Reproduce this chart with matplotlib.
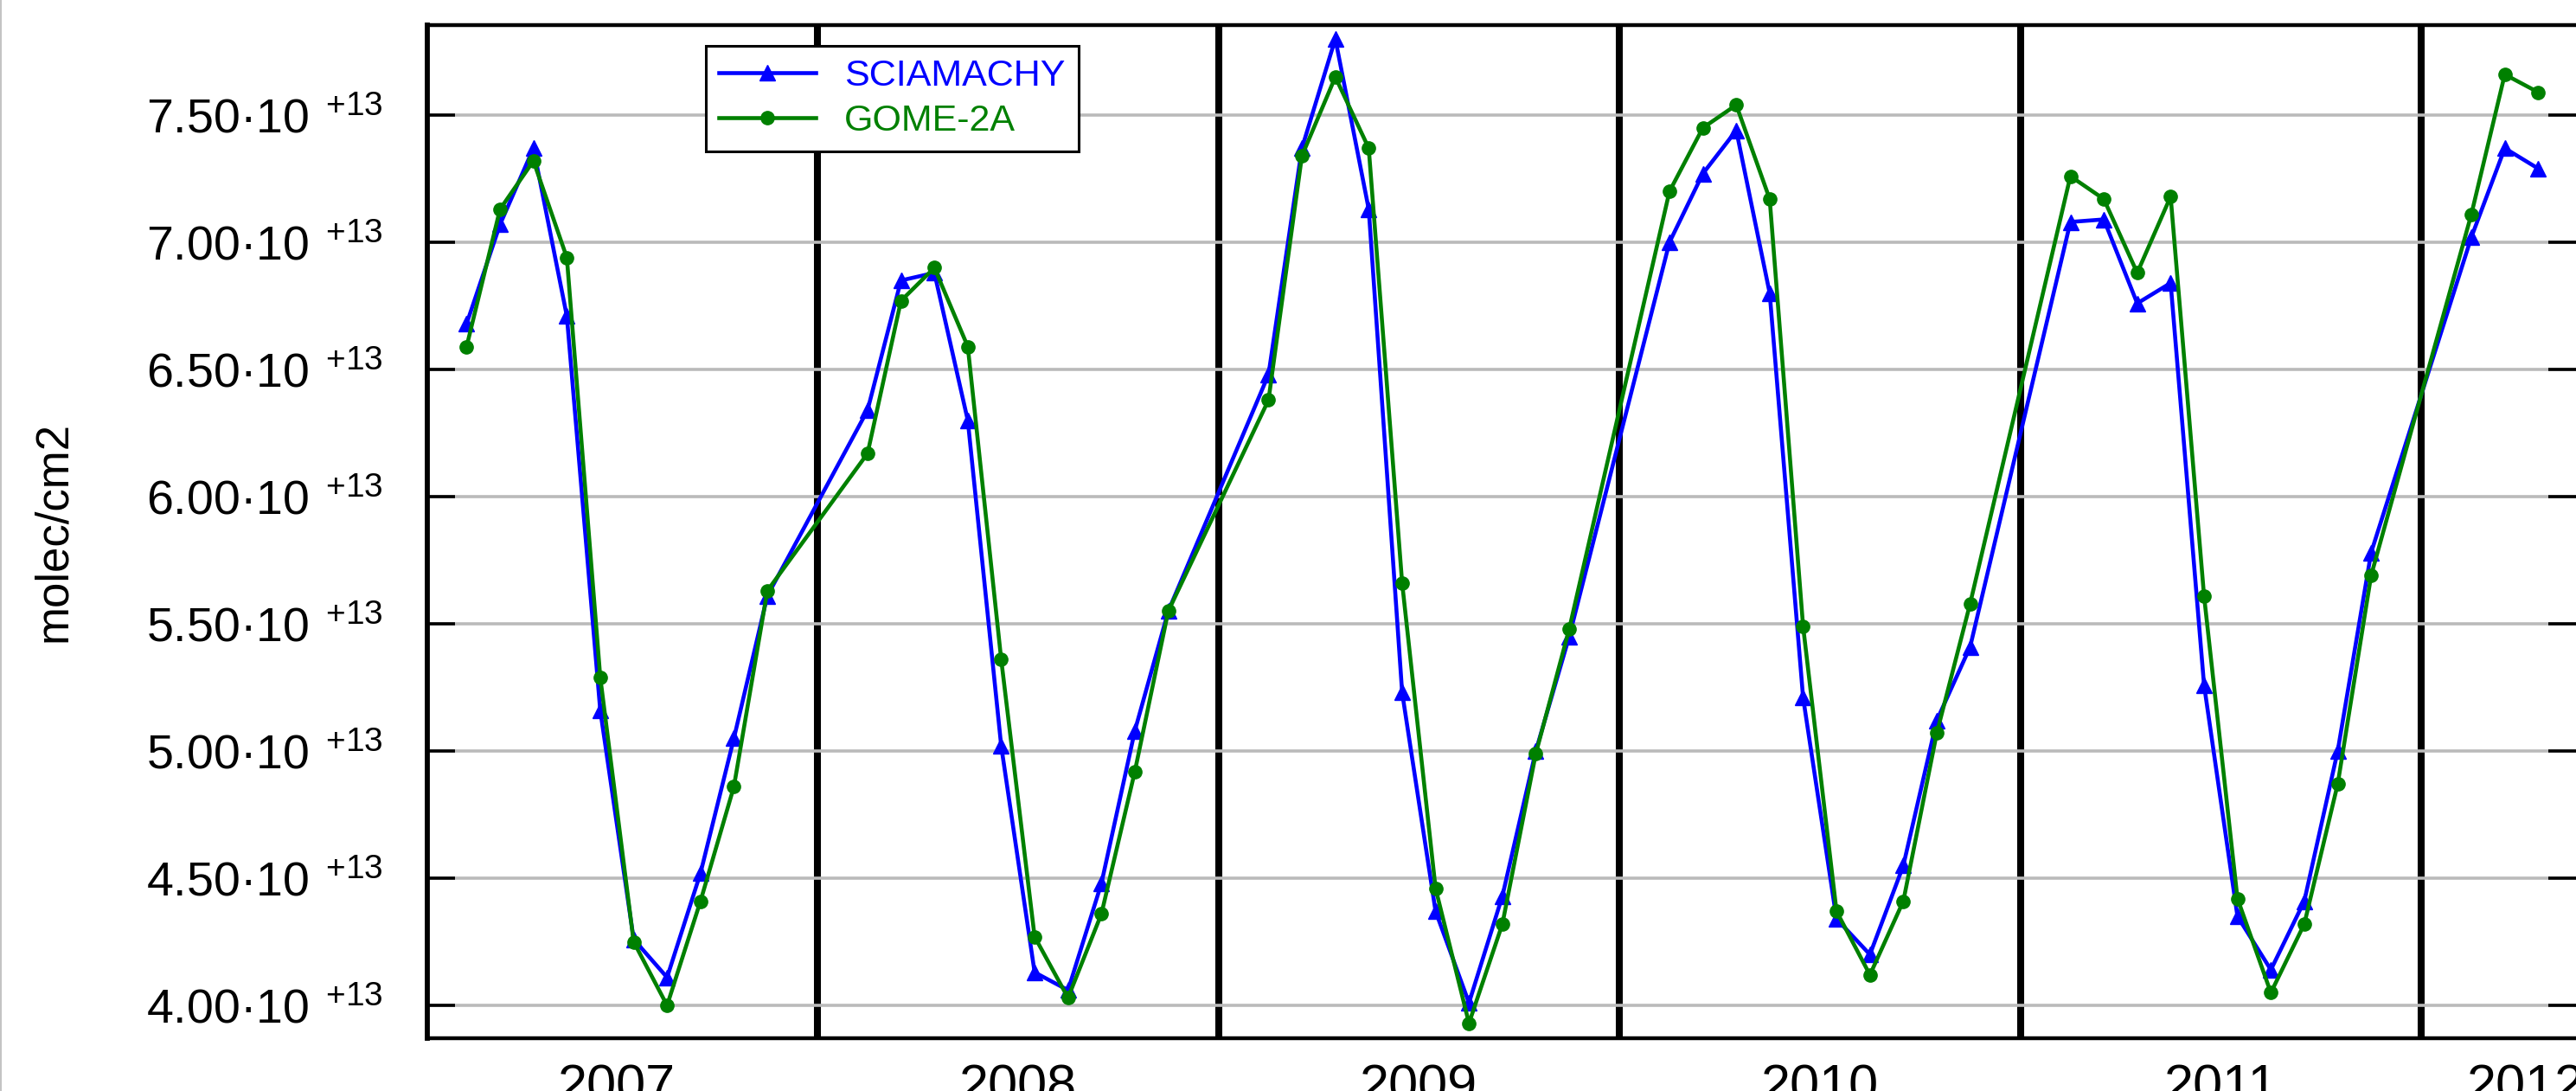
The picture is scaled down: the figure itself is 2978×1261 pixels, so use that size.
import numpy as np
import matplotlib
matplotlib.use("Agg")
import matplotlib.pyplot as plt
from matplotlib.ticker import FixedLocator, FuncFormatter, NullFormatter
from matplotlib.lines import Line2D

plt.rcParams["font.family"] = ["Liberation Sans", "DejaVu Sans"]
plt.rcParams["mathtext.default"] = "regular"

# Monthly columns, February to November each year (winter months missing)
years = [2007] * 10 + [2008] * 10 + [2009] * 10 + [2010] * 10 + [2011] * 10 + [2012] * 3
months = list(range(2, 12)) * 5 + [2, 3, 4]

# Column values in units of 1e13 molec/cm2
sciamachy = [
    6.68, 7.07, 7.37, 6.71, 5.16, 4.26, 4.11, 4.52, 5.05, 5.61,
    6.34, 6.85, 6.88, 6.30, 5.02, 4.13, 4.06, 4.48, 5.08, 5.55,
    6.48, 7.37, 7.80, 7.13, 5.23, 4.37, 4.01, 4.43, 5.00, 5.45,
    7.00, 7.27, 7.44, 6.80, 5.21, 4.34, 4.20, 4.55, 5.12, 5.41,
    7.08, 7.09, 6.76, 6.84, 5.26, 4.35, 4.14, 4.41, 5.00, 5.78,
    7.02, 7.37, 7.29,
]
gome2a = [
    6.59, 7.13, 7.32, 6.94, 5.29, 4.25, 4.00, 4.41, 4.86, 5.63,
    6.17, 6.77, 6.90, 6.59, 5.36, 4.27, 4.03, 4.36, 4.92, 5.55,
    6.38, 7.34, 7.65, 7.37, 5.66, 4.46, 3.93, 4.32, 4.99, 5.48,
    7.20, 7.45, 7.54, 7.17, 5.49, 4.37, 4.12, 4.41, 5.07, 5.58,
    7.26, 7.17, 6.88, 7.18, 5.61, 4.42, 4.05, 4.32, 4.87, 5.69,
    7.11, 7.66, 7.59,
]
exponent = 13

year_bounds = [2008, 2009, 2010, 2011, 2012]
year_labels = ["2007", "2008", "2009", "2010", "2011", "2012"]
year_label_pos = [2007.5, 2008.5, 2009.5, 2010.5, 2011.5, 2012.26]
y_ticks = [4.00, 4.50, 5.00, 5.50, 6.00, 6.50, 7.00, 7.50]

scale = 10.0 ** exponent
t = np.array(years) + (np.array(months) - 0.5) / 12.0
y_scia = np.array(sciamachy) * scale
y_gome = np.array(gome2a) * scale

W, H = 2978, 1261
fig = plt.figure(figsize=(W / 100, H / 100), dpi=100)
ax = fig.add_axes([494 / W, 61 / H, (W - 494) / W, (1200 - 29) / H])

ax.plot(t, y_scia, color="#0000ff", lw=3.3, marker="^", ms=13,
        label="SCIAMACHY", zorder=3)
ax.plot(t, y_gome, color="#008000", lw=3.3, marker="o", ms=11,
        label="GOME-2A", zorder=4)

ax.set_xlim(2007.027, 2012.386)
ax.set_ylim(3.871 * scale, 7.854 * scale)

# Year boundaries as heavy black lines, year names centred in each span
ax.xaxis.set_major_locator(FixedLocator(year_bounds))
ax.xaxis.set_major_formatter(NullFormatter())
ax.xaxis.set_minor_locator(FixedLocator(year_label_pos))
ax.set_xticklabels(year_labels, minor=True)
ax.tick_params(axis="x", which="both", length=0)
ax.tick_params(axis="x", which="minor", labelsize=44, pad=21)
ax.grid(axis="x", which="major", color="black", lw=5.8)

ax.yaxis.set_major_locator(FixedLocator([v * scale for v in y_ticks]))
ax.yaxis.set_major_formatter(FuncFormatter(
    lambda v, p: r"$%.2f·10^{\ \,{+}%d}$" % (v / scale, exponent)))
ax.tick_params(axis="y", which="major", direction="in", length=23, width=2.6,
               left=True, right=True, labelsize=40, pad=37)
ax.grid(axis="y", which="major", color="#bababa", lw=2.6)
ax.set_axisbelow(True)

for side in ("left", "top", "bottom"):
    ax.spines[side].set_linewidth(3.2)
    ax.spines[side].set_color("black")
ax.spines["left"].set_linewidth(4.2)
ax.spines["right"].set_visible(False)

ax.set_ylabel("molec/cm2", fontsize=38)
ax.yaxis.set_label_coords((87 - 494) / (W - 494), 0.5)

leg = ax.legend(loc="upper left",
                bbox_to_anchor=((816 - 494) / (W - 494), (1200 - 53) / (1200 - 29)),
                borderaxespad=0, fontsize=31, frameon=True, fancybox=False,
                edgecolor="black", framealpha=1, numpoints=1, handlelength=2.6,
                handletextpad=0.77, borderpad=0.35, labelspacing=0.28,
                labelcolor="linecolor")
leg.get_frame().set_linewidth(2.2)

fig.add_artist(Line2D([0.0004, 0.0004], [0, 1], transform=fig.transFigure,
                      color="#c4c4c4", lw=1.5))

fig.savefig("out.png", dpi=100)
